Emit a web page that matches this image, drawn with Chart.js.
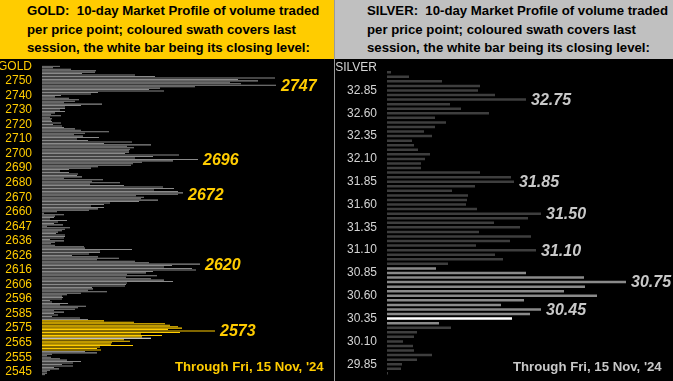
<!DOCTYPE html>
<html>
<head>
<meta charset="utf-8">
<script src="https://cdn.jsdelivr.net/npm/chart.js@4.4.1/dist/chart.umd.min.js"></script>
<style>
  html, body { margin: 0; padding: 0; background: #000; }
  body { width: 673px; height: 381px; position: relative; overflow: hidden;
         font-family: "Liberation Sans", Arial, sans-serif; }
  .panel { position: absolute; top: 0; height: 381px; background: #000; }
  .head { position: absolute; left: 0; top: 0; right: 0; height: 59px;
          font-weight: bold; font-size: 13.2px; line-height: 18.5px; padding-top: 2px;
          box-sizing: border-box; color: #000; white-space: nowrap; }
  .panel canvas { position: absolute; left: 0; top: 59px; }
  .through { position: absolute; top: 358px; font-weight: bold; font-size: 13.2px;
             line-height: 18px; white-space: nowrap; }
  #sep { position: absolute; left: 334px; top: 0; width: 1px; height: 381px; background: #9a9a9a; }
</style>
</head>
<body>
<div class="panel" id="goldPanel" style="left:0;width:334px">
  <div class="head" style="background:#ffcc00;padding-left:27px">GOLD:&nbsp; 10-day Market Profile of volume traded<br>per price point; coloured swath covers last<br>session, the white bar being its closing level:</div>
  <canvas id="chart-gold" width="334" height="322"></canvas>
  <div class="through" style="left:175px;color:#ffcc00">Through Fri, 15 Nov, '24</div>
</div>
<div id="sep"></div>
<div class="panel" id="silverPanel" style="left:335px;width:338px">
  <div class="head" style="background:#c0c0c0;padding-left:32px">SILVER:&nbsp; 10-day Market Profile of volume traded<br>per price point; coloured swath covers last<br>session, the white bar being its closing level:</div>
  <canvas id="chart-silver" width="338" height="322"></canvas>
  <div class="through" style="left:178px;color:#c8c8c8">Through Fri, 15 Nov, '24</div>
</div>
<script>
// gold: one bar per price point, top to bottom (volume)
const goldVolume = [
    18, 11, 29, 54, 53, 40, 93, 113, 233, 196,
    216, 188, 199, 234, 153, 118, 107, 122, 56, 49,
    19, 13, 27, 37, 33, 22, 60, 39, 23, 23,
    18, 23, 13, 9, 19, 8, 10, 9, 10, 19,
    11, 20, 22, 33, 39, 67, 43, 32, 41, 57,
    35, 46, 90, 62, 109, 85, 92, 88, 87, 87,
    83, 137, 111, 93, 156, 131, 100, 91, 89, 56,
    49, 27, 18, 27, 36, 35, 40, 22, 61, 50,
    78, 48, 82, 121, 132, 112, 136, 141, 136, 94,
    102, 99, 116, 97, 68, 62, 49, 62, 56, 47,
    15, 2, 22, 13, 12, 8, 25, 16, 12, 21,
    5, 28, 23, 20, 16, 14, 23, 23, 22, 8,
    22, 13, 9, 13, 42, 43, 90, 58, 58, 47,
    30, 56, 77, 55, 93, 107, 158, 130, 122, 150,
    154, 111, 104, 85, 115, 84, 109, 122, 131, 85,
    84, 83, 50, 51, 46, 65, 39, 25, 20, 21,
    20, 8, 10, 26, 18, 44, 36, 33, 12, 22,
    12, 16, 10, 38, 46, 62, 92, 123, 128, 136,
    140, 126, 173, 138, 99, 120, 100, 109, 82, 88,
    70, 69, 91, 58, 55, 59, 43, 55, 10, 5,
    9, 18, 25, 39, 31, 20, 31, 12, 17, 8,
    5, 5, 3
];
const goldTicks = ['GOLD', '2750', '2740', '2730', '2720', '2710', '2700', '2690', '2680', '2670',
    '2660', '2647', '2636', '2626', '2616', '2606', '2596', '2585', '2575', '2565', '2555', '2545'];
const goldSwath = [175, 195];   // last session, first and last bar
const goldClose = 187;
const goldMarkIdx = [13, 64, 88, 136, 182];
const goldMarkText = ['2747', '2696', '2672', '2620', '2573'];

// silver: 0.05 per bar, from 33.10 down to 29.75
const silverVolume = [
    0, 4, 22, 55, 93, 91, 108, 139, 63, 74,
    102, 48, 59, 48, 37, 45, 25, 27, 31, 43,
    38, 34, 34, 93, 124, 127, 88, 65, 81, 80,
    79, 90, 154, 141, 107, 133, 92, 144, 123, 89,
    149, 108, 116, 61, 49, 139, 197, 239, 198, 177,
    210, 137, 114, 154, 143, 125, 52, 64, 30, 27,
    16, 26, 27, 45, 30, 15, 14, 1
];
const silverTicks = ['SILVER', '32.85', '32.60', '32.35', '32.10', '31.85', '31.60', '31.35',
    '31.10', '30.85', '30.60', '30.35', '30.10', '29.85'];
const silverSwath = [44, 56];
const silverClose = 55;
const silverMarkIdx = [7, 25, 32, 40, 47, 53];
const silverMarkText = ['32.75', '31.85', '31.50', '31.10', '30.75', '30.45'];

const FONT = '"Liberation Sans", Arial, sans-serif';

const markLabels = {
    id: 'markLabels',
    afterDatasetsDraw(chart, args, opts) {
        const {ctx, scales: {x, y}} = chart;
        const data = chart.data.datasets[0].data;
        ctx.save();
        ctx.font = 'italic bold 16px ' + FONT;
        ctx.fillStyle = opts.color;
        ctx.textBaseline = 'middle';
        opts.idx.forEach((i, n) => {
            const end = Math.max(data[i - 1] || 0, data[i], data[i + 1] || 0);
            ctx.fillText(opts.text[n], x.getPixelForValue(end) + 5, y.getPixelForValue(i) + 1);
        });
        ctx.restore();
    }
};

function barColours(count, swath, close, base, swathColour) {
    const colours = [];
    for (let i = 0; i < count; i++) {
        if (i === close) colours.push('#ffffff');
        else if (i >= swath[0] && i <= swath[1]) colours.push(swathColour);
        else colours.push(base);
    }
    return colours;
}

function createProfile(el, cfg) {
    const labels = cfg.volume.map((v, i) => i);
    return new Chart(el, {
        type: 'bar',
        plugins: [markLabels],
        data: {
            labels,
            datasets: [{
                data: cfg.volume,
                backgroundColor: barColours(cfg.volume.length, cfg.swath, cfg.close, cfg.base, cfg.swathColour),
                borderWidth: 0,
                barPercentage: cfg.barPct,
                categoryPercentage: 1,
            }]
        },
        options: {
            indexAxis: 'y',
            responsive: false,
            animation: false,
            layout: {padding: {top: cfg.padTop, bottom: cfg.padBottom, left: 0, right: 0}},
            plugins: {
                legend: {display: false},
                tooltip: {enabled: false},
                markLabels: {idx: cfg.markIdx, text: cfg.markText, color: cfg.markColour},
            },
            scales: {
                x: {display: false, min: 0, max: cfg.xMax},
                y: {
                    grid: {display: false, drawTicks: false},
                    border: {display: false},
                    afterFit: (s) => {
                        s.width = cfg.axisWidth;
                        s.paddingTop = 0;
                        s.paddingBottom = 0;
                    },
                    ticks: {
                        autoSkip: false,
                        padding: 10,
                        color: cfg.tickColour,
                        font: {family: FONT, size: 12},
                        callback: (v, i) => i % cfg.every === 0 ? (cfg.ticks[i / cfg.every] || '') : '',
                    }
                }
            }
        }
    });
}

createProfile(document.getElementById('chart-gold'), {
    volume: goldVolume, ticks: goldTicks, every: 10,
    swath: goldSwath, close: goldClose,
    base: '#8a8a8a', swathColour: '#ffcc00',
    markIdx: goldMarkIdx, markText: goldMarkText, markColour: '#ffcc00',
    tickColour: '#ffcc00', barPct: 0.72,
    axisWidth: 42, xMax: 292, padTop: 6.6, padBottom: 5.6,
});

createProfile(document.getElementById('chart-silver'), {
    volume: silverVolume, ticks: silverTicks, every: 5,
    swath: silverSwath, close: silverClose,
    base: '#3e3e3e', swathColour: '#8a8a8a',
    markIdx: silverMarkIdx, markText: silverMarkText, markColour: '#c8c8c8',
    tickColour: '#d4d4d4', barPct: 0.55,
    axisWidth: 52, xMax: 286, padTop: 6.4, padBottom: 5.4,
});
</script>
</body>
</html>
